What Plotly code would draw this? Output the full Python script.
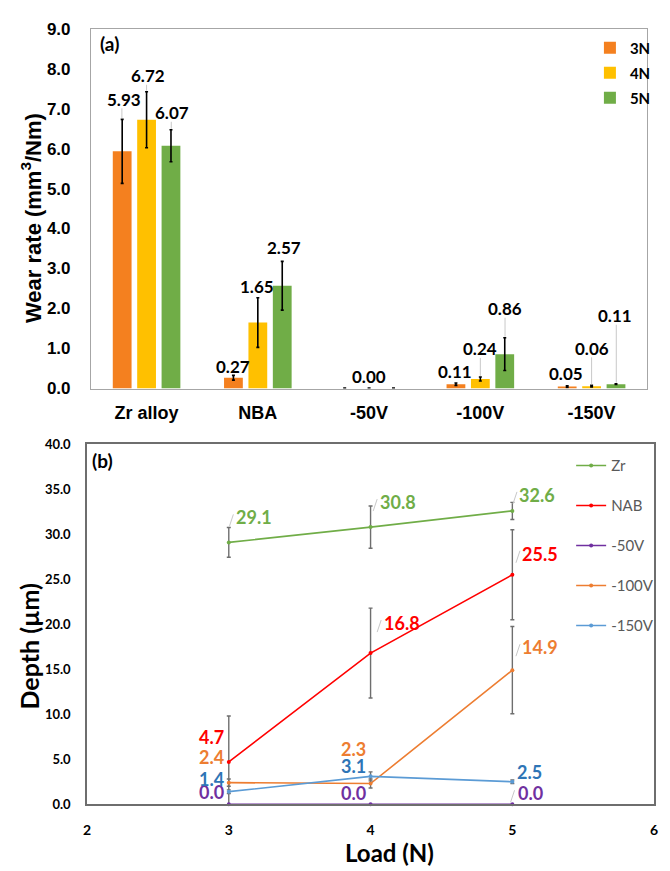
import plotly.graph_objects as go

W, H = 670, 871

# ---------------- panel (a): wear rate ----------------
materials = ["Zr alloy", "NBA", "-50V", "-100V", "-150V"]
wear_3n = [5.93, 0.27, 0.00, 0.11, 0.05]
wear_4n = [6.72, 1.65, 0.00, 0.24, 0.06]
wear_5n = [6.07, 2.57, 0.00, 0.86, 0.11]
err_3n = [0.80, 0.06, 0.01, 0.03, 0.02]
err_4n = [0.70, 0.62, 0.01, 0.05, 0.02]
err_5n = [0.40, 0.61, 0.01, 0.41, 0.01]

# ---------------- panel (b): wear depth ----------------
loads = [3, 4, 5]
depth_zr = [29.1, 30.8, 32.6]
depth_nab = [4.7, 16.8, 25.5]
depth_50v = [0.0, 0.0, 0.0]
depth_100v = [2.4, 2.3, 14.9]
depth_150v = [1.4, 3.1, 2.5]
derr_zr = [1.65, 2.35, 0.95]
derr_nab = [5.1, 5.0, 5.0]
derr_50v = [0.0, 0.0, 0.0]
derr_100v = [0.4, 0.5, 4.85]
derr_150v = [0.2, 0.5, 0.2]

# panel frames in pixels
A_L, A_R, A_T, A_B = 88, 651, 20, 388
B_L, B_R, B_T, B_B = 84, 658, 445, 813


def fx(p):
    return p / W


def fy(p):
    return 1 - p / H


BARGAP, BARGROUPGAP = 0.342, 0.23
cat_w = (A_R - A_L) / len(materials)
slot = cat_w * (1 - BARGAP) / 3

fig = go.Figure()

bar_series = [
    ("3N", wear_3n, err_3n, "#F4801F"),
    ("4N", wear_4n, err_4n, "#FFC000"),
    ("5N", wear_5n, err_5n, "#70AD47"),
]
for k, (name, vals, errs, col) in enumerate(bar_series):
    fig.add_trace(go.Bar(
        x=materials, y=vals, name=name,
        marker=dict(color=col, line=dict(width=0)),
        error_y=dict(type="data", array=errs, color="black", thickness=1.6, width=1.5),
        xaxis="x", yaxis="y", legend="legend", legendgroup=name,
        hoverinfo="skip",
    ))

# label placement for the bar values: (x shift, rise above error cap) in px
bar_label_shift = {
    "3N": [(2, 20), (0, 9), None, (-1, 11), (-1, 12)],
    "4N": [(1, 16), (-1, 11), (0, 12), (0, 28), (0, 37)],
    "5N": [(1, 17), (1, 14), None, (0, 29), (-1, 68)],
}
annotations = []
shapes = []
for k, (name, vals, errs, col) in enumerate(bar_series):
    for j, mat in enumerate(materials):
        sh = bar_label_shift[name][j]
        if sh is None:
            continue
        dx, rise = sh
        top = vals[j] + errs[j]
        xoff = (k - 1) * slot
        annotations.append(dict(
            x=mat, y=top, xref="x", yref="y", text=f"{vals[j]:.2f}",
            showarrow=False, xshift=xoff + dx, yshift=rise, yanchor="middle",
            font=dict(family="Lato", size=17, weight="bold", color="black"),
        ))
        if rise - 10 > 4:
            shapes.append(dict(
                type="line", xref="x", yref="y", xsizemode="pixel", ysizemode="pixel",
                xanchor=mat, yanchor=top, x0=xoff, x1=xoff, y0=1, y1=rise - 9,
                line=dict(color="#C8C8C8", width=1),
            ))

# ---------------- line series of panel (b) ----------------
line_series = [
    ("Zr", depth_zr, derr_zr, "#70AD47", "#70AD47"),
    ("NAB", depth_nab, derr_nab, "#FF0000", "#FF0000"),
    ("-50V", depth_50v, derr_50v, "#7030A0", "#7030A0"),
    ("-100V", depth_100v, derr_100v, "#ED7D31", "#ED7D31"),
    ("-150V", depth_150v, derr_150v, "#5B9BD5", "#2E75B6"),
]
for name, vals, errs, col, tcol in line_series:
    fig.add_trace(go.Scatter(
        x=loads, y=vals, name=name, mode="lines+markers",
        line=dict(color=col, width=1.6), marker=dict(color=col, size=4),
        error_y=dict(type="data", array=errs, color="#6E6E6E", thickness=1.4, width=2,
                     visible=any(e > 0 for e in errs)),
        xaxis="x2", yaxis="y2", legend="legend2", legendgroup=name,
        cliponaxis=(name != "-50V"), hoverinfo="skip",
    ))

# value labels of panel (b): (x shift, rise) in px from the point
line_label_shift = {
    "Zr": [(25, 25), (27, 25), (25, 16)],
    "NAB": [(-17, 25), (31, 30), (28, 21)],
    "-50V": [(-17, 12), (-17, 11), (18, 11)],
    "-100V": [(-17, 26), (-17, 35), (28, 23)],
    "-150V": [(-17, 13), (-17, 10), (17, 10)],
}
for name, vals, errs, col, tcol in line_series:
    for j, xv in enumerate(loads):
        dx, rise = line_label_shift[name][j]
        txt = f"{vals[j]:.1f}"
        annotations.append(dict(
            x=xv, y=vals[j], xref="x2", yref="y2", text=txt, showarrow=False,
            xshift=dx, yshift=rise, yanchor="middle",
            font=dict(family="Lato", size=18, weight="bold", color=tcol),
        ))
        if dx > 0 and rise >= 11:
            hw = 4.6 * len(txt)
            shapes.append(dict(
                type="line", xref="x2", yref="y2", xsizemode="pixel", ysizemode="pixel",
                xanchor=xv, yanchor=vals[j],
                x0=dx - hw - 6, x1=dx - hw - 2, y0=rise - 9, y1=rise + 3,
                line=dict(color="#C8C8C8", width=1),
            ))

# panel letters and axis titles
annotations += [
    dict(text="(a)", x=fx(95), y=fy(35), xref="paper", yref="paper", xanchor="left",
         yanchor="middle", showarrow=False,
         font=dict(family="Lato", size=19, weight="bold", color="black")),
    dict(text="(b)", x=fx(87), y=fy(462), xref="paper", yref="paper", xanchor="left",
         yanchor="middle", showarrow=False,
         font=dict(family="Lato", size=19, weight="bold", color="black")),
    dict(text="Wear rate (mm<sup>3</sup>/Nm)", x=fx(28), y=fy(214), xref="paper",
         yref="paper", textangle=-90, showarrow=False, xanchor="center", yanchor="middle",
         font=dict(family="Liberation Sans", size=22, weight="bold", color="black")),
    dict(text="Depth (µm)", x=fx(25), y=fy(652), xref="paper", yref="paper",
         textangle=-90, showarrow=False, xanchor="center", yanchor="middle",
         font=dict(family="Lato", size=25, weight="bold", color="black")),
    dict(text="Load (N)", x=fx(390), y=fy(862), xref="paper", yref="paper",
         showarrow=False, xanchor="center", yanchor="middle",
         font=dict(family="Lato", size=24, weight="bold", color="black")),
]

fig.update_layout(
    width=W, height=H, autosize=False,
    margin=dict(l=0, r=0, t=0, b=0),
    paper_bgcolor="white", plot_bgcolor="white",
    barmode="group", bargap=BARGAP, bargroupgap=BARGROUPGAP,
    xaxis=dict(
        domain=[fx(A_L), fx(A_R)], anchor="y", type="category",
        showline=True, mirror=True, linecolor="#A6A6A6", linewidth=1,
        ticks="", showgrid=False, ticklabelstandoff=8,
        tickfont=dict(family="Liberation Sans", size=18, weight="bold", color="black"),
    ),
    yaxis=dict(
        domain=[fy(A_B), fy(A_T)], anchor="x", range=[0, 9], dtick=1, tickformat=".1f",
        showline=True, mirror=True, linecolor="#A6A6A6", linewidth=1,
        ticks="", showgrid=False, zeroline=False, ticklabelstandoff=16,
        tickfont=dict(family="Liberation Sans", size=17, weight="bold", color="black"),
    ),
    xaxis2=dict(
        domain=[fx(B_L), fx(B_R)], anchor="y2", range=[2, 6], dtick=1,
        showline=True, mirror=True, linecolor="#6E6E6E", linewidth=1.5,
        ticks="", showgrid=False, zeroline=False, ticklabelstandoff=12,
        tickfont=dict(family="Lato", size=14, weight="bold", color="black"),
    ),
    yaxis2=dict(
        domain=[fy(B_B), fy(B_T)], anchor="x2", range=[0, 40], dtick=5, tickformat=".1f",
        showline=True, mirror=True, linecolor="#6E6E6E", linewidth=1.5,
        ticks="", showgrid=False, zeroline=False, ticklabelstandoff=12,
        tickfont=dict(family="Lato", size=13, weight="bold", color="black"),
    ),
    legend=dict(
        x=fx(593), y=fy(23), xanchor="left", yanchor="top",
        bgcolor="rgba(0,0,0,0)", traceorder="grouped", tracegroupgap=2.5,
        font=dict(family="Lato", size=15, weight="bold", color="black"),
    ),
    legend2=dict(
        x=fx(574), y=fy(450), xanchor="left", yanchor="top",
        bgcolor="rgba(0,0,0,0)", traceorder="grouped", tracegroupgap=17.5,
        font=dict(family="Lato", size=15, color="#595959"),
    ),
    annotations=annotations,
    shapes=shapes,
)

fig.write_html("out.html")
